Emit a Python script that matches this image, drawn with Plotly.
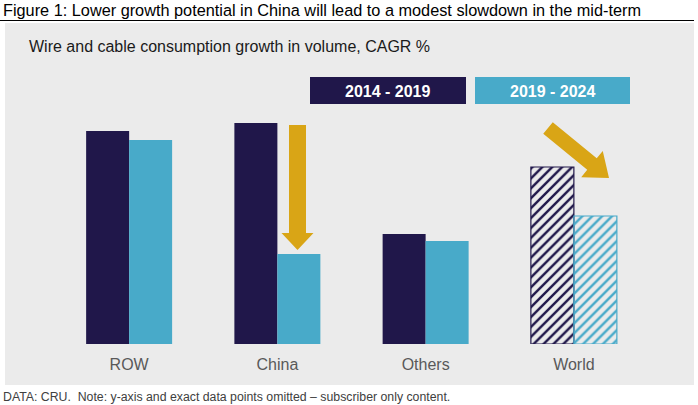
import math
import plotly.graph_objects as go

W, H = 698, 405

categories = ["ROW", "China", "Others", "World"]
period_a = [213, 221, 110, 177]
period_b = [204, 90, 103, 128]
series_names = ["2014 - 2019", "2019 - 2024"]

DARK = "#20174a"
LIGHT = "#48aac9"
GOLD = "#d9a516"
PANEL = "#ebebeb"


def px(x):
    return x / W


def py(y):
    return 1 - y / H


def arrow_path(x0, y0, x1, y1, shaft, head_w, head_l):
    # build an arrow outline in pixels, return svg path in paper coords
    dx, dy = x1 - x0, y1 - y0
    length = math.hypot(dx, dy)
    ux, uy = dx / length, dy / length
    nx, ny = -uy, ux
    bx, by = x1 - ux * head_l, y1 - uy * head_l
    pts = [
        (x0 + nx * shaft / 2, y0 + ny * shaft / 2),
        (bx + nx * shaft / 2, by + ny * shaft / 2),
        (bx + nx * head_w / 2, by + ny * head_w / 2),
        (x1, y1),
        (bx - nx * head_w / 2, by - ny * head_w / 2),
        (bx - nx * shaft / 2, by - ny * shaft / 2),
        (x0 - nx * shaft / 2, y0 - ny * shaft / 2),
    ]
    return "M " + " L ".join(f"{px(a):.5f},{py(b):.5f}" for a, b in pts) + " Z"


fig = go.Figure()
for name, vals, col in [(series_names[0], period_a, DARK), (series_names[1], period_b, LIGHT)]:
    fig.add_trace(go.Bar(
        x=categories,
        y=vals,
        name=name,
        marker=dict(
            color=col,
            line=dict(color=col, width=[0, 0, 0, 1.2]),
            pattern=dict(shape=["", "", "", "/"], fillmode="replace", size=7, solidity=0.35),
        ),
        hoverinfo="skip",
    ))

fig.update_layout(
    width=W,
    height=H,
    margin=dict(l=0, r=0, t=0, b=0),
    paper_bgcolor="white",
    plot_bgcolor="rgba(0,0,0,0)",
    barmode="group",
    bargap=0.42,
    bargroupgap=0,
    showlegend=False,
    font=dict(family="Liberation Sans, Arial, sans-serif"),
)
fig.update_xaxes(
    domain=[px(55), px(648)],
    range=[-0.5, 3.5],
    showline=False,
    showgrid=False,
    zeroline=False,
    ticks="outside",
    ticklen=6,
    tickcolor="rgba(0,0,0,0)",
    tickfont=dict(size=16, color="#595959"),
)
fig.update_yaxes(
    domain=[py(344), py(100)],
    range=[0, 244],
    visible=False,
)

shapes = [
    dict(type="rect", xref="paper", yref="paper", x0=px(5), x1=px(694), y0=py(385), y1=py(23),
         fillcolor=PANEL, line=dict(width=0), layer="below"),
    dict(type="line", xref="paper", yref="paper", x0=0, x1=px(694), y0=py(20.5), y1=py(20.5),
         line=dict(color="black", width=1.2)),
    dict(type="rect", xref="paper", yref="paper", x0=px(310), x1=px(466), y0=py(104), y1=py(77),
         fillcolor=DARK, line=dict(width=0)),
    dict(type="rect", xref="paper", yref="paper", x0=px(475), x1=px(630), y0=py(104), y1=py(77),
         fillcolor=LIGHT, line=dict(width=0)),
    dict(type="path", xref="paper", yref="paper", path=arrow_path(297.5, 125, 297.5, 250, 17, 32, 17),
         fillcolor=GOLD, line=dict(width=0)),
    dict(type="path", xref="paper", yref="paper", path=arrow_path(548, 128, 609, 178, 15, 34, 22),
         fillcolor=GOLD, line=dict(width=0)),
]
fig.update_layout(shapes=shapes)

annotations = [
    dict(text="Figure 1: Lower growth potential in China will lead to a modest slowdown in the mid-term",
         x=px(1), y=py(10), xanchor="left", yanchor="middle",
         font=dict(size=16.3, color="black")),
    dict(text="Wire and cable consumption growth in volume, CAGR %",
         x=px(27), y=py(47), xanchor="left", yanchor="middle",
         font=dict(size=16, color="#1a1a1a")),
    dict(text="<b>" + series_names[0] + "</b>", x=px(388), y=py(91), xanchor="center", yanchor="middle",
         font=dict(size=16, color="white")),
    dict(text="<b>" + series_names[1] + "</b>", x=px(552.5), y=py(91), xanchor="center", yanchor="middle",
         font=dict(size=16, color="white")),
    dict(text="DATA: CRU.  Note: y-axis and exact data points omitted \u2013 subscriber only content.",
         x=px(1), y=py(397), xanchor="left", yanchor="middle",
         font=dict(size=12.3, color="#404040")),
]
for a in annotations:
    a.update(xref="paper", yref="paper", showarrow=False)
fig.update_layout(annotations=annotations)

# page body has a default margin; drop it so the figure fills the window
fig.write_html("out.html", config={"displayModeBar": False},
               post_script="document.body.style.margin='0';")
